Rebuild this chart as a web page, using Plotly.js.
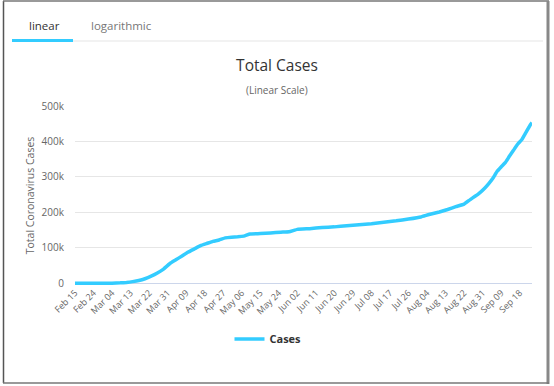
<!DOCTYPE html>
<html><head><meta charset="utf-8">
<script src="https://cdn.plot.ly/plotly-3.0.1.min.js"></script>
<style>html,body{margin:0;padding:0;background:#fff}#chart{width:554px;height:386px}</style>
</head><body><div id="chart"></div>
<script>
// ---- data ----
const dates = ['2020-02-15','2020-02-22','2020-02-29','2020-03-04','2020-03-08','2020-03-11','2020-03-14','2020-03-17','2020-03-20','2020-03-23','2020-03-26','2020-03-29','2020-04-01','2020-04-04','2020-04-07','2020-04-10','2020-04-13','2020-04-16','2020-04-19','2020-04-22','2020-04-25','2020-04-28','2020-05-01','2020-05-04','2020-05-07','2020-05-10','2020-05-15','2020-05-20','2020-05-25','2020-05-29','2020-06-02','2020-06-08','2020-06-14','2020-06-20','2020-06-26','2020-07-02','2020-07-08','2020-07-14','2020-07-20','2020-07-26','2020-08-01','2020-08-05','2020-08-10','2020-08-14','2020-08-18','2020-08-22','2020-08-25','2020-08-29','2020-09-01','2020-09-03','2020-09-05','2020-09-07','2020-09-09','2020-09-11','2020-09-13','2020-09-15','2020-09-17','2020-09-19','2020-09-21','2020-09-23','2020-09-24'];
const cases = [12,12,100,285,1100,2300,4500,7700,12600,20000,29000,40000,55000,66000,77000,88000,97000,106000,112000,118000,122000,128000,130000,131000,133000,139000,140000,142000,144000,145000,152000,154000,157000,159000,162000,165000,168000,172000,176000,181000,187000,194000,201000,208000,216000,223000,236000,252000,268000,281000,296000,315000,328000,340000,358000,375000,392000,405000,425000,445000,453000];
const seriesName = 'Cases';
const yTickVals = [0,100000,200000,300000,400000,500000];
const yTickText = ['0','100k','200k','300k','400k','500k'];
const firstTick = '2020-02-15';
const lastDate = '2020-09-24';
const tabLabels = ['linear','logarithmic'];

// ---- layout helpers (pixel -> paper) ----
const W=554,H=386,L=75,R=22,T=106,B=101;
const PW=W-L-R, PH=H-T-B;
const px = x => (x-L)/PW;
const py = y => (H-B-y)/PH;
const FONT = '"Open Sans", "Noto Sans", sans-serif';
const BLUE = '#33ccff';

const trace = {
  x: dates, y: cases, name: seriesName, type:'scatter', mode:'lines',
  line:{color:BLUE, width:3.5, shape:'spline', smoothing:0.3},
  hoverinfo:'x+y'
};

const layout = {
  width:W, height:H,
  margin:{l:L,r:R,t:T,b:B,pad:0,autoexpand:false},
  paper_bgcolor:'#fff', plot_bgcolor:'#fff',
  font:{family:FONT, color:'#666'},
  title:{text:'Total Cases', font:{family:FONT,size:15.5,color:'#333'},
         xref:'container', x:0.5, xanchor:'center', yref:'container', y:1-66/H, yanchor:'middle'},
  xaxis:{type:'date', range:[firstTick,lastDate], tick0:firstTick, dtick:9*86400000,
         tickformat:'%b %d', tickangle:-45, tickfont:{size:9,color:'#666',family:FONT},
         showgrid:false, showline:false, zeroline:false, ticks:'', fixedrange:true, automargin:false},
  yaxis:{range:[-5000,500000], tickvals:yTickVals, ticktext:yTickText,
         tickfont:{size:10,color:'#666',family:FONT}, ticklabelstandoff:10,
         showgrid:true, gridcolor:'#e6e6e6', gridwidth:1,
         zeroline:true, zerolinecolor:'#ccd6eb', zerolinewidth:1,
         showline:false, ticks:'', automargin:false,
         title:{text:'Total Coronavirus Cases', font:{size:10.5,color:'#666',family:FONT}, standoff:4}},
  showlegend:true,
  legend:{orientation:'h', xref:'paper', x:px(268), xanchor:'center', yref:'container', y:1-339/H, yanchor:'middle',
          font:{family:FONT,size:11,color:'#333',weight:'bold'}, itemwidth:30, bgcolor:'rgba(0,0,0,0)'},
  annotations:[
    {text:'(Linear Scale)', xref:'paper', x:px(277), xanchor:'center', yref:'paper', y:py(90), yanchor:'middle',
     showarrow:false, font:{family:FONT,size:10,color:'#666'}},
    {text:tabLabels[0], xref:'paper', x:px(44), xanchor:'center', yref:'paper', y:py(25), yanchor:'middle',
     showarrow:false, font:{family:FONT,size:11.5,color:'#333'}},
    {text:tabLabels[1], xref:'paper', x:px(121), xanchor:'center', yref:'paper', y:py(25), yanchor:'middle',
     showarrow:false, font:{family:FONT,size:11.5,color:'#777'}}
  ],
  shapes:[
    {type:'line', xref:'paper', yref:'paper', x0:px(73), x1:px(543), y0:py(41), y1:py(41), line:{color:'#eeeeee', width:1.5}},
    {type:'line', xref:'paper', yref:'paper', x0:px(12), x1:px(73), y0:py(40.5), y1:py(40.5), line:{color:BLUE, width:3}},
    {type:'line', xref:'paper', yref:'paper', x0:px(3.5), x1:px(3.5), y0:py(1), y1:py(383), line:{color:'#555', width:1.5}},
    {type:'line', xref:'paper', yref:'paper', x0:px(3), x1:px(549), y0:py(1), y1:py(1), line:{color:'#777', width:1.5}},
    {type:'line', xref:'paper', yref:'paper', x0:px(548), x1:px(548), y0:py(1), y1:py(384), line:{color:'#888', width:3}},
    {type:'line', xref:'paper', yref:'paper', x0:px(3), x1:px(549), y0:py(383), y1:py(383), line:{color:'#777', width:1.5}}
  ]
};

Plotly.newPlot('chart',[trace],layout,{displayModeBar:false, staticPlot:true});
</script></body></html>
